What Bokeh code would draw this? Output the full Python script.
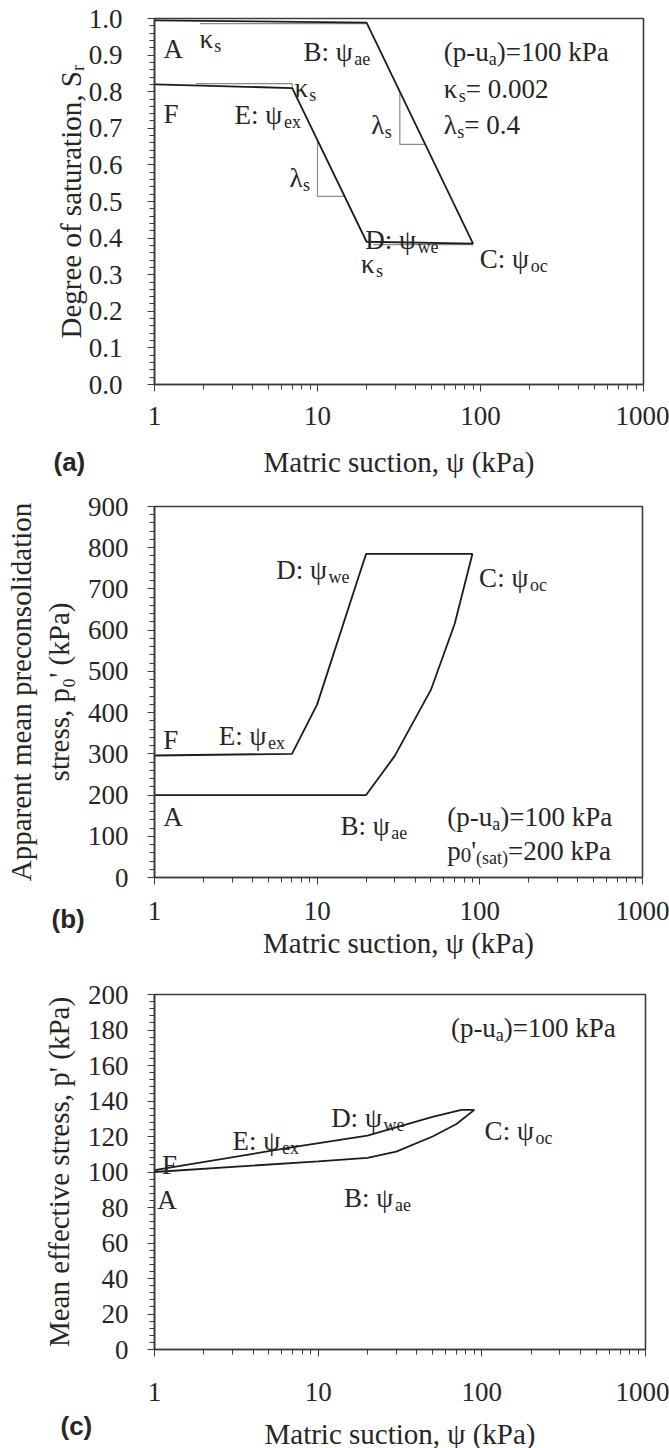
import numpy as np
from bokeh.plotting import figure
from bokeh.layouts import column
from bokeh.models import Label, Title, FixedTicker, PrintfTickFormatter
from bokeh.embed import file_html
from bokeh.resources import INLINE

# ---------------- data ----------------
# (a) degree of saturation along path A-B-C-D-E-F
sr_suction = [1, 20, 90, 20, 7, 1]
sr_values = [0.995, 0.989, 0.385, 0.390, 0.810, 0.820]
# slope indicators (grey triangles)
kap_top_x = [1.9, 20];      kap_top_y = [0.986, 0.986]
kap_e_x = [1.8, 7, 7];      kap_e_y = [0.822, 0.822, 0.810]
kap_d_x = [22, 90];         kap_d_y = [0.382, 0.382]
lam_bc_x = [32, 32, 46];    lam_bc_y = [0.800, 0.656, 0.656]
lam_de_x = [10, 10, 14.7];  lam_de_y = [0.667, 0.514, 0.514]

# (b) apparent mean preconsolidation stress along A-B-C-D-E-F
p0_suction = [1, 20, 30, 50, 70, 90, 20, 18, 10, 7, 1]
p0_values = [200, 200, 295, 455, 615, 785, 785, 730, 420, 300, 296]

# (c) mean effective stress along A-B-C-D-E-F
pe_suction = [1, 10, 20, 30, 50, 70, 90, 75, 50, 20, 7, 1]
pe_values = [100, 106, 108, 111.5, 120, 127, 135, 135, 131, 120.5, 114, 101]

x_ticks = [1, 10, 100, 1000]
x_minor = [m * d for d in (1, 10, 100) for m in range(2, 10)]
x_title_text = "Matric suction, ψ (kPa)"

# ---------------- style ----------------
SERIF = "Liberation Serif"
SANS = "Liberation Sans"
TXT = "#262626"
AX = "#3c3c3c"
LINE = "#1c1c1c"
GREY = "#8a8a8a"
MAIN = 27
SUB = 18
DROP = -7

EM = {'A': .722, 'B': .667, 'C': .667, 'D': .722, 'E': .611, 'F': .556, 'M': .889,
      'P': .556, 'S': .556, 'a': .444, 'c': .444, 'd': .5, 'e': .444, 'f': .333,
      'g': .5, 'i': .278, 'k': .5, 'l': .278, 'm': .778, 'n': .5, 'o': .5, 'p': .5,
      'r': .333, 's': .389, 't': .278, 'u': .5, 'v': .5, 'w': .722, 'x': .5,
      ' ': .25, ',': .25, '.': .25, ':': .278, '(': .333, ')': .333, '=': .564,
      '-': .333, "'": .18, 'ψ': .69, 'κ': .55, 'λ': .5}


def tw(s, size):
    return sum(EM.get(c, 0.5) for c in s) * size


def rich(p, x, y, pieces):
    pos = 0.0
    for text, size, shift in pieces:
        p.add_layout(Label(x=x, y=y, x_offset=pos, y_offset=shift, text=text,
                           text_font=SERIF, text_font_size=f"{size}px",
                           text_color=TXT, text_baseline="alphabetic", text_align="left"))
        pos += tw(text, size)


def name(main, sub):
    return [(main, MAIN, 0), (sub, SUB, DROP)]


def fig(left, fw, right, top, fh, bottom, yr, yticks, yminor, fmt,
        x_std, xl_std, y_title, yl_std, y_std=19):
    p = figure(x_axis_type="log", x_range=(1, 1000), y_range=yr,
               frame_width=fw, frame_height=fh,
               min_border_left=left, min_border_right=right,
               min_border_top=top, min_border_bottom=bottom,
               output_backend="svg", toolbar_location=None, title=None)
    p.grid.visible = False
    p.outline_line_color = AX
    p.outline_line_width = 1.6
    p.background_fill_color = "white"
    p.border_fill_color = "white"
    for ax in (p.xaxis[0], p.yaxis[0]):
        ax.axis_line_color = AX
        ax.axis_line_width = 1.6
        ax.major_tick_line_color = AX
        ax.minor_tick_line_color = AX
        ax.major_tick_in = 0
        ax.major_tick_out = 7
        ax.minor_tick_in = 0
        ax.minor_tick_out = 5
        ax.major_label_text_font = SERIF
        ax.major_label_text_font_size = "27px"
        ax.major_label_text_color = TXT
        ax.axis_label_text_font = SERIF
        ax.axis_label_text_font_size = "29px"
        ax.axis_label_text_font_style = "normal"
        ax.axis_label_text_color = TXT
    xa = p.xaxis[0]
    xa.ticker = FixedTicker(ticks=x_ticks, minor_ticks=x_minor)
    xa.formatter = PrintfTickFormatter(format="%d")
    xa.major_label_standoff = x_std
    xa.axis_label = x_title_text
    xa.axis_label_standoff = xl_std
    ya = p.yaxis[0]
    ya.ticker = FixedTicker(ticks=yticks, minor_ticks=yminor)
    ya.formatter = PrintfTickFormatter(format=fmt)
    ya.major_label_standoff = y_std
    ya.axis_label = y_title
    ya.axis_label_standoff = yl_std
    return p


def panel_tag(p, text, offset, standoff):
    p.add_layout(Title(text=text, align="left", offset=offset, standoff=standoff,
                       vertical_align="top", text_font=SANS, text_font_size="26px",
                       text_font_style="bold", text_color=TXT), "below")


# ---------------- (a) ----------------
pa = fig(148, 489, 32, 18, 366, 96, (0, 1),
         [round(v, 1) for v in np.arange(0, 1.01, 0.1)],
         [round(v, 2) for v in np.arange(0, 1.001, 0.02)], "%.1f",
         15, 18, "Degree of saturation, Sᵣ", -1, y_std=25)
for xs, ys in ((kap_top_x, kap_top_y), (kap_e_x, kap_e_y), (kap_d_x, kap_d_y),
               (lam_bc_x, lam_bc_y), (lam_de_x, lam_de_y)):
    pa.line(xs, ys, line_color=GREY, line_width=1.2)
pa.line(sr_suction, sr_values, line_color=LINE, line_width=1.8)

rich(pa, 1.136, 0.918, [("A", MAIN, 0)])
rich(pa, 1.888, 0.945, name("κ", "s"))
rich(pa, 8.2, 0.909, name("B: ψ", "ae"))
rich(pa, 59.6, 0.909, [("(p-u", MAIN, 0), ("a", SUB, DROP), (")=100 kPa", MAIN, 0)])
rich(pa, 59.6, 0.807, [("κ", MAIN, 0), ("s", SUB, DROP), (" = 0.002", MAIN, 0)])
rich(pa, 59.6, 0.710, [("λ", MAIN, 0), ("s", SUB, DROP), (" = 0.4", MAIN, 0)])
rich(pa, 7.22, 0.809, name("κ", "s"))
rich(pa, 1.136, 0.740, [("F", MAIN, 0)])
rich(pa, 3.1, 0.735, name("E: ψ", "ex"))
rich(pa, 21.4, 0.708, name("λ", "s"))
rich(pa, 6.73, 0.563, name("λ", "s"))
rich(pa, 19.6, 0.394, name("D: ψ", "we"))
rich(pa, 99, 0.343, name("C: ψ", "oc"))
rich(pa, 18.5, 0.329, name("κ", "s"))
panel_tag(pa, "(a)", -101, -68)

# ---------------- (b) ----------------
pb = fig(152, 488, 29, 26, 371, 83, (0, 900),
         list(range(0, 901, 100)), list(range(0, 901, 20)), "%d",
         17, 4, "Apparent mean preconsolidation\nstress, p₀' (kPa)", 10)
pb.line(p0_suction, p0_values, line_color=LINE, line_width=1.8)

rich(pb, 5.6, 746, name("D: ψ", "we"))
rich(pb, 99, 726, name("C: ψ", "oc"))
rich(pb, 1.13, 334, [("F", MAIN, 0)])
rich(pb, 2.48, 343, name("E: ψ", "ex"))
rich(pb, 1.13, 147, [("A", MAIN, 0)])
rich(pb, 13.9, 126, name("B: ψ", "ae"))
rich(pb, 63, 147, [("(p-u", MAIN, 0), ("a", SUB, DROP), (")=100 kPa", MAIN, 0)])
rich(pb, 63, 64, [("p", MAIN, 0), ("0", 21, -4), ("'", MAIN, 0), ("(sat)", SUB, DROP),
                  ("=200 kPa", MAIN, 0)])
panel_tag(pb, "(b)", -103, -116)

# ---------------- (c) ----------------
pc = fig(154, 491, 24, 33, 355, 100, (0, 200),
         list(range(0, 201, 20)), list(range(0, 201, 4)), "%d",
         26, 14, "Mean effective stress, p' (kPa)", 10)
pc.line(pe_suction, pe_values, line_color=LINE, line_width=1.8)

rich(pc, 64.7, 181, [("(p-u", MAIN, 0), ("a", SUB, DROP), (")=100 kPa", MAIN, 0)])
rich(pc, 12.0, 130.4, name("D: ψ", "we"))
rich(pc, 104, 122.9, name("C: ψ", "oc"))
rich(pc, 3.0, 117.2, name("E: ψ", "ex"))
rich(pc, 1.11, 104, [("F", MAIN, 0)])
rich(pc, 1.04, 84.3, [("A", MAIN, 0)])
rich(pc, 14.4, 85.2, name("B: ψ", "ae"))
panel_tag(pc, "(c)", -94, -84)

layout = column(pa, pb, pc, spacing=0)
open("out.html", "w").write(file_html(layout, INLINE))
